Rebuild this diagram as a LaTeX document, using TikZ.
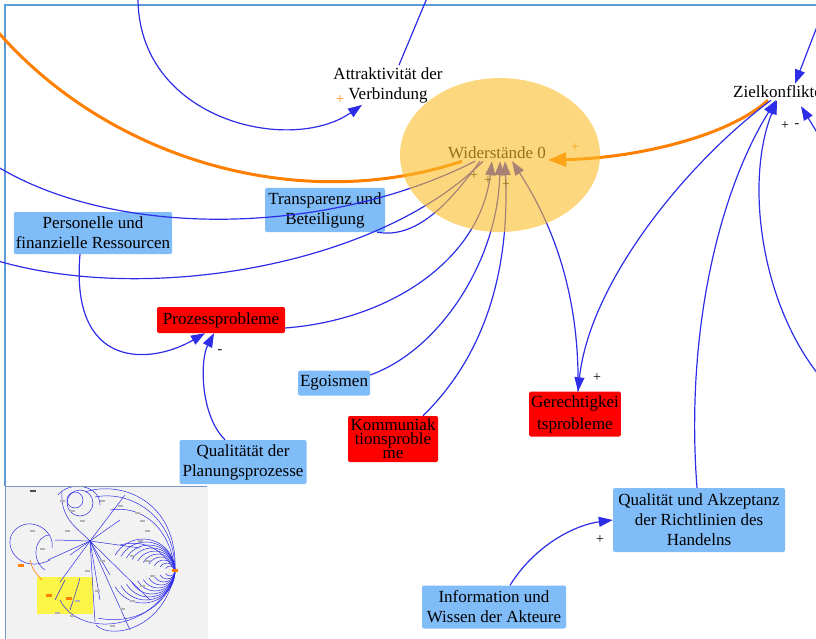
\documentclass[tikz,border=0pt]{standalone}
\usepackage{fontspec}
\setmainfont{Liberation Serif}
\usetikzlibrary{positioning,arrows.meta,calc}
\definecolor{kastenblau}{RGB}{128,188,248}
\definecolor{linienblau}{RGB}{45,45,232}
\definecolor{pfeilorange}{RGB}{255,128,0}
\definecolor{ellipsengelb}{RGB}{250,188,40}
\definecolor{rahmenblau}{RGB}{95,155,215}
\definecolor{kartengrau}{RGB}{242,242,242}
\definecolor{kartenrand}{RGB}{120,150,190}
\definecolor{markgelb}{RGB}{250,245,70}
\newcommand{\knotenfont}{\fontsize{17}{20}\selectfont}
\tikzset{
  kasten/.style={rectangle,rounded corners=2pt,fill=kastenblau,inner xsep=2pt,inner ysep=2pt,align=center,font=\knotenfont},
  problem/.style={kasten,fill=red},
  groesse/.style={align=center,font=\knotenfont,inner sep=2pt},
  pfeil/.style={draw=linienblau,line width=1.2pt,-{Triangle[length=14pt,width=10pt]}},
  linie/.style={draw=linienblau,line width=1.2pt},
  opfeil/.style={draw=pfeilorange,line width=3pt,-{Triangle[length=18pt,width=14pt]}},
  olinie/.style={draw=pfeilorange,line width=3pt},
  zeichen/.style={font=\fontsize{14}{14}\selectfont,inner sep=0pt},
  karte/.style={draw=linienblau,line width=0.5pt},
}

\begin{document}
\begin{tikzpicture}[x=1pt,y=-1pt]
  \useasboundingbox (0,0) rectangle (816,639);
  \clip (0,0) rectangle (816,639);
  \draw[rahmenblau,line width=1.5pt] (5,486) -- (5,5) -- (820,5);

  % Groessen
  \node[groesse] (attr) at (388,85) {Attraktivität der\\Verbindung};
  \node[groesse,anchor=west] (ziel) at (731,92) {Zielkonflikte};
  \node[groesse] (wid) at (497,153) {Widerstände 0};
  \node[kasten,minimum width=120pt,minimum height=44pt] (transp) at (325,210) {Transparenz und\\Beteiligung};
  \node[kasten,minimum width=157pt,minimum height=42pt] (pers) at (93,233) {Personelle und\\finanzielle Ressourcen};
  \node[problem,minimum width=128pt,minimum height=26pt] (proz) at (221,320) {Prozessprobleme};
  \node[kasten,minimum width=72pt,minimum height=25pt] (ego) at (334,383) {Egoismen};
  \node[problem,minimum width=90pt,minimum height=46pt,font={\fontsize{17}{14}\selectfont}] (komm) at (393,439) {Kommuniak\\tionsproble\\me};
  \node[problem,minimum width=90pt,minimum height=45pt,font={\fontsize{17}{22}\selectfont}] (gere) at (575,414) {Gerechtigkei\\tsprobleme};
  \node[kasten,minimum width=127pt,minimum height=44pt] (qplan) at (243,462) {Qualitätät der\\Planungsprozesse};
  \node[kasten,minimum width=172pt,minimum height=64pt] (qakz) at (699,520) {Qualität und Akzeptanz\\der Richtlinien des\\Handelns};
  \node[kasten,minimum width=144pt,minimum height=43pt] (info) at (494,607) {Information und\\Wissen der Akteure};

  % Enden ausserhalb
  \coordinate (rand1) at (138,-2);
  \coordinate (rand2) at (427,-2);
  \coordinate (rand3) at (-2,32);
  \coordinate (rand4) at (-2,167);
  \coordinate (rand5) at (-2,261);
  \coordinate (rand6) at (818,374);
  \coordinate (rand7) at (818,24);
  \coordinate (rand8) at (818,134);

  % Kanten
  \draw[pfeil] (rand1) .. controls (138,120) and (290,155) .. ([xshift=-26pt]attr.south);
  \draw[linie] ([xshift=11pt]attr.north) -- (rand2);
  \draw[olinie] (rand3) .. controls (110,160) and (300,215) .. ([xshift=-35pt]wid.south);
  \draw[opfeil] ([xshift=37pt]ziel.south west) .. controls (730,135) and (640,158) .. ([yshift=-7pt]wid.east);
  \draw[linie] (rand4) .. controls (120,240) and (330,235) .. ([xshift=-22pt]wid.south);
  \draw[linie] ([xshift=-8pt]transp.south east) .. controls (420,240) and (455,195) .. ([xshift=-17pt]wid.south);
  \draw[linie] (rand5) .. controls (150,305) and (380,265) .. ([xshift=-14pt]wid.south);
  \draw[pfeil] ([yshift=-8pt]proz.east) .. controls (390,320) and (480,260) .. ([xshift=-5pt]wid.south);
  \draw[pfeil] ([yshift=8pt]ego.east) .. controls (440,350) and (498,260) .. ([xshift=3pt]wid.south);
  \draw[pfeil] ([xshift=30pt]komm.north) .. controls (480,360) and (510,280) .. ([xshift=8pt]wid.south);
  \draw[pfeil] ([xshift=3pt]gere.north) .. controls (580,290) and (550,220) .. ([xshift=15pt]wid.south);
  \draw[pfeil] ([xshift=40pt]ziel.south west) .. controls (690,160) and (590,280) .. ([xshift=3pt]gere.north);
  \draw[pfeil] ([xshift=-13pt]pers.south) .. controls (70,370) and (150,365) .. ([xshift=-16pt]proz.south);
  \draw[pfeil] ([xshift=-18pt]qplan.north) .. controls (200,415) and (200,360) .. ([xshift=-7pt]proz.south);
  \draw[pfeil] ([xshift=-2pt]qakz.north) .. controls (685,330) and (720,190) .. ([xshift=45pt]ziel.south west);
  \draw[pfeil] (rand6) .. controls (760,300) and (745,180) .. ([xshift=46pt]ziel.south west);
  \draw[pfeil] (rand7) -- ([xshift=64pt]ziel.north west);
  \draw[pfeil] (rand8) -- ([xshift=70pt,yshift=-6pt]ziel.south west);
  \draw[pfeil] ([xshift=16pt]info.north) .. controls (535,545) and (575,525) .. (qakz.west);

  % Polaritaeten
  \node[zeichen,text=pfeilorange] (s1) at (340,100) {+};
  \node[zeichen,text=pfeilorange] (s2) at (575,148) {+};
  \node[zeichen] (s3) at (474,176) {+};
  \node[zeichen] (s4) at (488,181) {+};
  \node[zeichen] (s5) at (506,185) {+};
  \node[zeichen] (s6) at (597,378) {+};
  \node[zeichen] (s7) at (785,126) {+};
  \node[zeichen] (s8) at (797,126) {-};
  \node[zeichen] (s9) at (220,352) {-};
  \node[zeichen] (s10) at (600,540) {+};

  % Ellipse halbdurchsichtig darueber
  \fill[ellipsengelb,fill opacity=0.6] ([xshift=3pt,yshift=-2pt]wid.center) ellipse [x radius=100pt,y radius=77pt];

  % Uebersichtskarte
  \begin{scope}
    \fill[kartengrau] (5,486) rectangle (207,639);
    \clip (5,486) rectangle (207,639);
    \fill[markgelb] (37,577) rectangle (93,614);
    \foreach \r in {5,8,...,32} {
      \draw[karte] (175,571) arc[start angle=0,end angle=150,radius=\r];
      \draw[karte] (175,571) arc[start angle=0,end angle=-150,radius=\r];
    }
    \draw[karte] (175,571) .. controls (175,515) and (130,490) .. (95,497);
    \draw[karte] (175,571) .. controls (170,525) and (140,505) .. (110,510);
    \draw[karte] (175,571) .. controls (178,500) and (120,480) .. (85,492);
    \draw[karte] (175,571) .. controls (168,610) and (130,625) .. (98,618);
    \draw[karte] (175,571) .. controls (165,630) and (110,640) .. (96,625);
    \draw[karte] (175,571) .. controls (160,545) and (140,540) .. (120,545);
    \draw[karte] (80,503) circle (13);
    \draw[karte] (75,500) circle (8);
    \draw[karte] (58,495) .. controls (70,480) and (100,485) .. (100,505);
    \draw[karte] (62,492) .. controls (60,520) and (80,530) .. (90,541);
    \foreach \z in {(55,540),(48,560),(120,520),(140,548),(100,600),(95,622),(60,582),(150,600),(130,630),(70,555),(110,575),(125,495)}
      \draw[karte] (90,541) -- \z;
    \draw[karte] (50,560) .. controls (20,575) and (0,545) .. (15,530) .. controls (30,515) and (55,530) .. (52,548);
    \draw[karte] (45,570) .. controls (30,560) and (35,535) .. (50,535);
    \draw[karte] (60,600) .. controls (80,640) and (160,630) .. (175,571);
    \draw[karte] (65,580) .. controls (60,590) .. (55,600);
    \draw[karte] (80,578) .. controls (75,595) .. (70,610);
    \draw[pfeilorange,line width=0.6pt] (30,560) .. controls (33,570) .. (42,580);
    \foreach \p in {(60,500),(70,510),(80,520),(65,530),(118,505),(135,512),(140,520),(145,530),(138,540),(130,555),(145,560),(150,575),(140,585),(130,600),(120,608),(100,560),(85,570),(95,590),(110,625),(30,530),(40,548),(100,500),(70,615),(75,600),(55,612)}
      \fill[gray!60] \p rectangle ++(5,2);
    \foreach \p in {(18,564),(172,569),(46,594),(66,597)}
      \fill[pfeilorange] \p rectangle ++(6,3);
    \fill[black!70] (30,490) rectangle (36,491.5);
    \draw[kartenrand,line width=1pt] (5,486) rectangle (207,639);
  \end{scope}
\end{tikzpicture}
\end{document}
